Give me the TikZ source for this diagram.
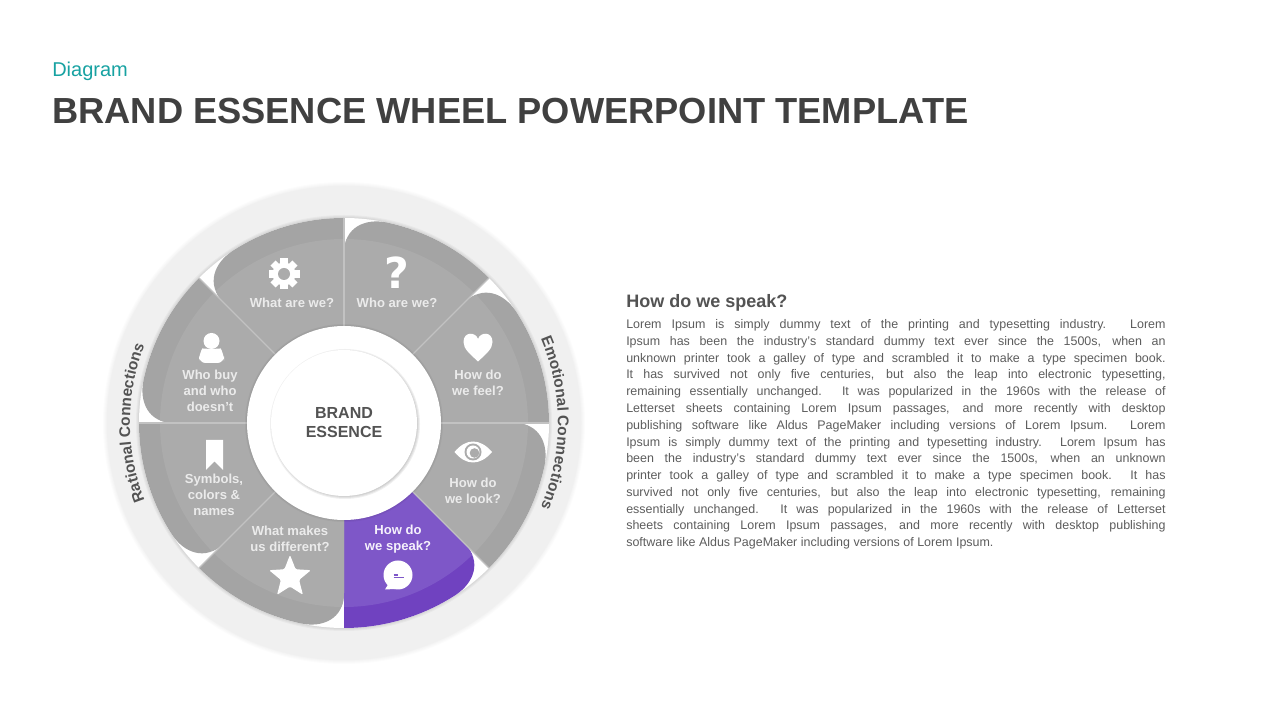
\documentclass[tikz,border=0pt]{standalone}
\usepackage{fontspec}
\usepackage{xcolor}
\setmainfont{Liberation Sans}
\usetikzlibrary{positioning,shapes.geometric,decorations.text}
\definecolor{petaldark}{HTML}{A4A4A4}
\definecolor{petallight}{HTML}{ABABAB}
\definecolor{speakdark}{HTML}{7042C0}
\definecolor{speaklight}{HTML}{7E57C8}
\definecolor{ringgrey}{HTML}{F0F0F0}
\definecolor{inkgrey}{HTML}{404040}
\definecolor{teal}{HTML}{17A2A2}
\newcommand{\petal}[3]{%
  \begin{scope}
    \clip (#1-45:90) -- (#1-45:205) arc[start angle=#1-45, end angle=#1-12, radius=205]
      .. controls (#1-6:206) and (#1:196) .. (#1:170) -- (#1:90) -- cycle;
    \fill[#2] (0,0) circle[radius=210];
    \fill[#3] (0,0) circle[radius=184];
  \end{scope}}
\newcommand{\softring}[3]{%
  \foreach \r in {0,1,...,#2}
    \fill[black, opacity=#3] (0,0) circle[radius=#1+\r];}
\begin{document}
\begin{tikzpicture}[
  x=0.75pt, y=0.75pt,
  petaltext/.style={align=center, text=white!92!black, font=\fontsize{9.8}{12}\selectfont\bfseries},
  sepline/.style={draw=white!76!black, line width=1pt},
  ringtext/.style={decorate, decoration={text along path, text align=center,
    text={|\fontsize{11.6}{14}\selectfont\bfseries\color{inkgrey!90!white}|#1}}},
  icon/.style={fill=white, draw=none}
]
  \useasboundingbox (0,0) rectangle (1280,720);
  \fill[white] (0,0) rectangle (1280,720);

  % Heading
  \node[anchor=base west, inner sep=0pt, text=teal, font=\fontsize{15}{18}\selectfont] (kicker) at (52,643) {Diagram};
  \node[anchor=base west, inner sep=0pt, text=inkgrey, font=\fontsize{27.2}{32}\selectfont\bfseries] (title) at (52,596)
    {BRAND ESSENCE WHEEL POWERPOINT TEMPLATE};

  \begin{scope}[shift={(344,297)}]
    % Outer ring
    \softring{234}{7}{0.012}
    \fill[ringgrey] (0,0) circle[radius=237];
    \softring{204}{4}{0.03}
    \fill[white] (0,0) circle[radius=205];
    \path[ringtext={Rational Connections}] (201:214) arc[start angle=201, end angle=159, radius=214];
    \path[ringtext={Emotional Connections}] (24:214) arc[start angle=24, end angle=-24, radius=214];

    % Petals
    \petal{135}{petaldark}{petallight}
    \petal{90}{petaldark}{petallight}
    \petal{45}{petaldark}{petallight}
    \petal{0}{petaldark}{petallight}
    \petal{-45}{speakdark}{speaklight}
    \petal{-90}{petaldark}{petallight}
    \petal{-135}{petaldark}{petallight}
    \petal{180}{petaldark}{petallight}
    \foreach \a in {135,90,45,0,-45,180,-135}
      \draw[sepline] (\a:95) -- (\a:205);

    % Hub
    \softring{96}{3}{0.04}
    \fill[white] (0,0) circle[radius=97];
    \begin{scope}[shift={(1,-1)}]
      \softring{72}{3}{0.06}
    \end{scope}
    \fill[white] (0,0) circle[radius=73];
    \node[align=center, text=inkgrey!90!white, font=\fontsize{12}{14.2}\selectfont\bfseries] (hub) at (0,0) {BRAND\\ESSENCE};
  \end{scope}

  % Petal labels
  \node[petaltext] (whatlabel) at (292,417) {What are we?};
  \node[petaltext] (wholabel) at (397,417) {Who are we?};
  \node[petaltext] (feellabel) at (478,337) {How do\\we feel?};
  \node[petaltext] (looklabel) at (473,229) {How do\\we look?};
  \node[petaltext, text=white!92!speaklight] (speaklabel) at (398,181) {How do\\we speak?};
  \node[petaltext] (difflabel) at (290,181) {What makes\\us different?};
  \node[petaltext] (symbollabel) at (214,225) {Symbols,\\colors \&\\names};
  \node[petaltext] (buylabel) at (210,329) {Who buy\\and who\\doesn’t};

  % Icons
  \begin{scope}[shift={(284,446)}]
    \foreach \a in {0,45,...,315}
      \fill[icon, rotate=\a] (-3.6,10) rectangle (3.6,15.5);
    \fill[icon] (0,0) circle[radius=11.5];
    \fill[petallight] (0,0) circle[radius=6];
  \end{scope}
  \node[text=white, inner sep=0pt, font=\fontsize{32}{32}\selectfont\fontspec{DejaVu Sans}\bfseries] (whoicon) at (397,447) {?};
  \fill[icon] (478,358.5) .. controls (470,366) and (463.5,371) .. (463.5,378)
    .. controls (463.5,389) and (476,388) .. (478,381)
    .. controls (480,388) and (492.5,389) .. (492.5,378)
    .. controls (492.5,371) and (486,366) .. (478,358.5) -- cycle;
  \fill[icon] (454.5,268) .. controls (466,282) and (480,282) .. (492,268)
    .. controls (480,254) and (466,254) .. (454.5,268) -- cycle;
  \fill[petallight] (473,268) circle[radius=8.5];
  \fill[white] (473,268) circle[radius=6.5];
  \fill[petallight] (474.5,267) circle[radius=4.8];
  \fill[icon] (398,145) circle[radius=14.5];
  \fill[icon] (389,137) -- (385,130.5) -- (395,131) -- cycle;
  \draw[speaklight, line width=0.8pt] (393.5,145) -- (397.5,145) (393.5,142.5) -- (403.5,142.5);
  \node[star, star points=5, star point ratio=2.3, fill=white, rounded corners=1pt, inner sep=0pt,
    minimum size=33pt] (staricon) at (290,143) {};
  \fill[icon] (206,280) -- (223,280) -- (223,250) -- (214.5,258.5) -- (206,250) -- cycle;
  \fill[icon] (211.5,379) circle[radius=8];
  \fill[icon, rounded corners=5pt] (199,357) -- (224,357) -- (224,366) .. controls (221,371) and (202,371) .. (199,366) -- cycle;

  % Text column
  \node[anchor=base west, inner sep=0pt, text=inkgrey!90!white, font=\fontsize{13.5}{16}\selectfont\bfseries] (heading) at (626,412) {How do we speak?};
  \node[anchor=north west, inner sep=0pt, below=5.5pt of heading.south west, anchor=north west, text width=404.5pt, align=justify, text=inkgrey!85!white,
    font=\fontsize{9.35}{12.58}\selectfont] (body) {%
    Lorem Ipsum is simply dummy text of the printing and typesetting industry. Lorem\linebreak
    Ipsum has been the industry's standard dummy text ever since the 1500s, when an\linebreak
    unknown printer took a galley of type and scrambled it to make a type specimen book.\linebreak
    It has survived not only five centuries, but also the leap into electronic typesetting,\linebreak
    remaining essentially unchanged. It was popularized in the 1960s with the release of\linebreak
    Letterset sheets containing Lorem Ipsum passages, and more recently with desktop\linebreak
    publishing software like Aldus PageMaker including versions of Lorem Ipsum. Lorem\linebreak
    Ipsum is simply dummy text of the printing and typesetting industry. Lorem Ipsum has\linebreak
    been the industry's standard dummy text ever since the 1500s, when an unknown\linebreak
    printer took a galley of type and scrambled it to make a type specimen book. It has\linebreak
    survived not only five centuries, but also the leap into electronic typesetting, remaining\linebreak
    essentially unchanged. It was popularized in the 1960s with the release of Letterset\linebreak
    sheets containing Lorem Ipsum passages, and more recently with desktop publishing\linebreak
    software like Aldus PageMaker including versions of Lorem Ipsum.};
\end{tikzpicture}
\end{document}
